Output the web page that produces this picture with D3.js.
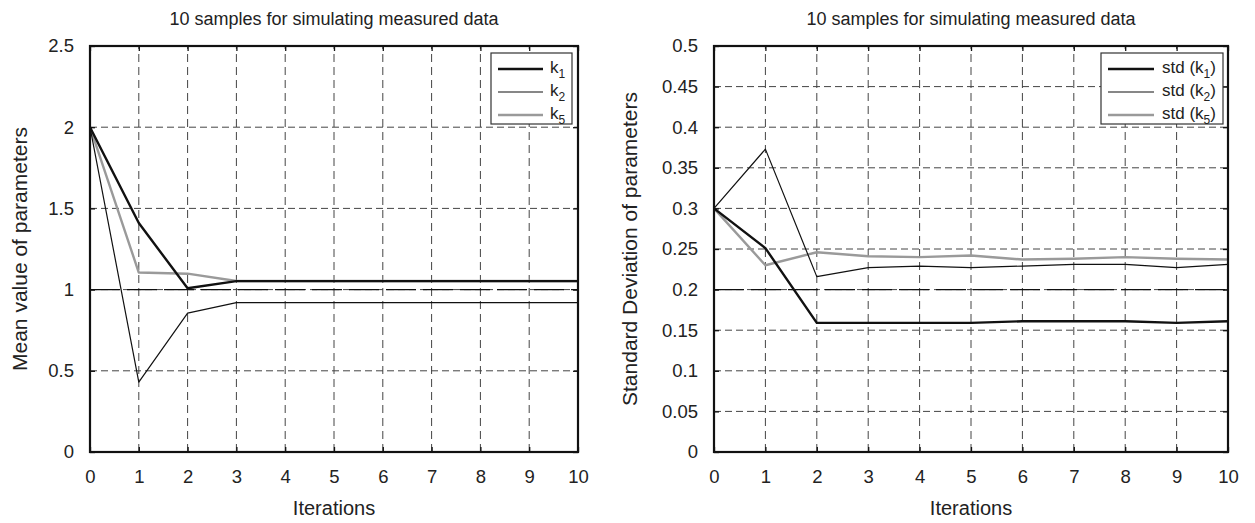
<!DOCTYPE html>
<html>
<head>
<meta charset="utf-8">
<script src="https://cdn.jsdelivr.net/npm/d3@7"></script>
<style>
  body { margin: 0; background: #fff; }
  svg text { font-family: "Liberation Sans", Arial, sans-serif; fill: #222; }
</style>
</head>
<body>
<svg id="chart" width="1255" height="523"></svg>
<script>
(function () {
  'use strict';

  var iterations = [0, 1, 2, 3, 4, 5, 6, 7, 8, 9, 10];

  // left panel: mean values
  var meanK1 = [2.0, 1.41, 1.008, 1.052, 1.052, 1.052, 1.052, 1.052, 1.052, 1.052, 1.052];
  var meanK2 = [2.0, 0.43, 0.855, 0.92, 0.92, 0.92, 0.92, 0.92, 0.92, 0.92, 0.92];
  var meanK5 = [2.0, 1.105, 1.098, 1.053, 1.053, 1.053, 1.053, 1.053, 1.053, 1.053, 1.053];
  var meanTicks = [0, 0.5, 1, 1.5, 2, 2.5];
  var meanTrue = 1;

  // right panel: standard deviations
  var stdK1 = [0.3, 0.251, 0.159, 0.159, 0.159, 0.159, 0.161, 0.161, 0.161, 0.159, 0.161];
  var stdK2 = [0.3, 0.373, 0.216, 0.227, 0.229, 0.227, 0.229, 0.231, 0.231, 0.227, 0.231];
  var stdK5 = [0.3, 0.230, 0.246, 0.241, 0.240, 0.242, 0.237, 0.238, 0.240, 0.238, 0.237];
  var stdTicks = [0, 0.05, 0.1, 0.15, 0.2, 0.25, 0.3, 0.35, 0.4, 0.45, 0.5];
  var stdTrue = 0.2;

  var seriesStyle = [
    {color: '#111', width: 2.4},
    {color: '#111', width: 1.2},
    {color: '#9a9a9a', width: 2.4}
  ];

  var svg = d3.select('#chart');

  function panel(opts) {
    var x = d3.scaleLinear().domain([0, 10]).range([opts.left, opts.right]);
    var y = d3.scaleLinear().domain([0, opts.ymax]).range([452, 46]);
    var g = svg.append('g');

    // grid
    g.selectAll('.vgrid').data(iterations.slice(1, -1)).enter().append('line')
        .attr('x1', function (d) { return x(d); }).attr('x2', function (d) { return x(d); })
        .attr('y1', y(0)).attr('y2', y(opts.ymax))
        .attr('stroke', '#444').attr('stroke-width', 1).attr('stroke-dasharray', '8,5');
    g.selectAll('.hgrid').data(opts.ticks.slice(1, -1)).enter().append('line')
        .attr('x1', x(0)).attr('x2', x(10))
        .attr('y1', function (d) { return y(d); }).attr('y2', function (d) { return y(d); })
        .attr('stroke', '#444').attr('stroke-width', 1).attr('stroke-dasharray', '7,4');

    // reference value
    g.append('line')
        .attr('x1', x(0)).attr('x2', x(10))
        .attr('y1', y(opts.trueVal)).attr('y2', y(opts.trueVal))
        .attr('stroke', '#111').attr('stroke-width', 1.4).attr('stroke-dasharray', '30,7');

    // series
    var line = d3.line().x(function (d, i) { return x(iterations[i]); }).y(function (d) { return y(d); });
    [2, 1, 0].forEach(function (k) {
      g.append('path').datum(opts.series[k])
          .attr('d', line).attr('fill', 'none')
          .attr('stroke', seriesStyle[k].color).attr('stroke-width', seriesStyle[k].width)
          .attr('stroke-linejoin', 'round');
    });

    // axes (ticks inside, box on)
    var bottom = g.append('g').attr('transform', 'translate(0,' + y(0) + ')')
        .call(d3.axisBottom(x).tickValues(iterations).tickSize(-5).tickPadding(18).tickFormat(d3.format('d')));
    var top = g.append('g').attr('transform', 'translate(0,' + y(opts.ymax) + ')')
        .call(d3.axisTop(x).tickValues(iterations).tickSize(-5).tickFormat(''));
    var left = g.append('g').attr('transform', 'translate(' + x(0) + ',0)')
        .call(d3.axisLeft(y).tickValues(opts.ticks).tickSize(-5).tickPadding(16).tickFormat(function (d) { return String(+d.toFixed(2)); }));
    var right = g.append('g').attr('transform', 'translate(' + x(10) + ',0)')
        .call(d3.axisRight(y).tickValues(opts.ticks).tickSize(-5).tickFormat(''));
    [bottom, top, left, right].forEach(function (a) {
      a.attr('font-size', null).attr('font-family', null);
      a.select('.domain').remove();
      a.selectAll('.tick line').attr('stroke', '#111').attr('stroke-width', 1.3);
      a.selectAll('text').style('font-size', '18.5px').style('fill', '#222');
    });

    g.append('rect')
        .attr('x', x(0)).attr('y', y(opts.ymax))
        .attr('width', x(10) - x(0)).attr('height', y(0) - y(opts.ymax))
        .attr('fill', 'none').attr('stroke', '#111').attr('stroke-width', 2.2);

    // texts
    g.append('text').attr('x', (x(0) + x(10)) / 2).attr('y', 25)
        .attr('text-anchor', 'middle').style('font-size', '18px').text(opts.title);
    g.append('text').attr('x', (x(0) + x(10)) / 2).attr('y', 515)
        .attr('text-anchor', 'middle').style('font-size', '20px').text('Iterations');
    g.append('text').attr('transform', 'translate(' + opts.ylabX + ',' + ((y(0) + y(opts.ymax)) / 2) + ') rotate(-90)')
        .attr('text-anchor', 'middle').style('font-size', '21px').text(opts.ylabel);

    // legend
    var lg = g.append('g').attr('transform', 'translate(' + opts.legend.x + ',' + opts.legend.y + ')');
    lg.append('rect').attr('width', opts.legend.w).attr('height', opts.legend.h)
        .attr('fill', '#fff').attr('stroke', '#333').attr('stroke-width', 1.2);
    opts.names.forEach(function (name, i) {
      var cy = opts.legend.first + i * opts.legend.step;
      lg.append('line').attr('x1', 7).attr('x2', 7 + opts.legend.len)
          .attr('y1', cy).attr('y2', cy)
          .attr('stroke', seriesStyle[i].color).attr('stroke-width', seriesStyle[i].width);
      var t = lg.append('text').attr('x', opts.legend.len + opts.legend.gap).attr('y', cy + 4).style('font-size', '17px');
      t.append('tspan').text(opts.prefix + 'k');
      t.append('tspan').style('font-size', '12px').attr('dy', 5).text(name);
      if (opts.prefix) t.append('tspan').attr('dy', -5).text(')');
    });
  }

  panel({
    left: 90, right: 578, ymax: 2.5, ticks: meanTicks, trueVal: meanTrue,
    series: [meanK1, meanK2, meanK5], names: ['1', '2', '5'], prefix: '',
    title: '10 samples for simulating measured data', ylabel: 'Mean value of parameters', ylabX: 27,
    legend: {x: 491, y: 53, w: 81, h: 71, first: 16, step: 23, len: 45, gap: 14}
  });

  panel({
    left: 714, right: 1228, ymax: 0.5, ticks: stdTicks, trueVal: stdTrue,
    series: [stdK1, stdK2, stdK5], names: ['1', '2', '5'], prefix: 'std (',
    title: '10 samples for simulating measured data', ylabel: 'Standard Deviation of parameters', ylabX: 637,
    legend: {x: 1101, y: 53, w: 122, h: 71, first: 16, step: 23, len: 46, gap: 15}
  });
}());
</script>
</body>
</html>
